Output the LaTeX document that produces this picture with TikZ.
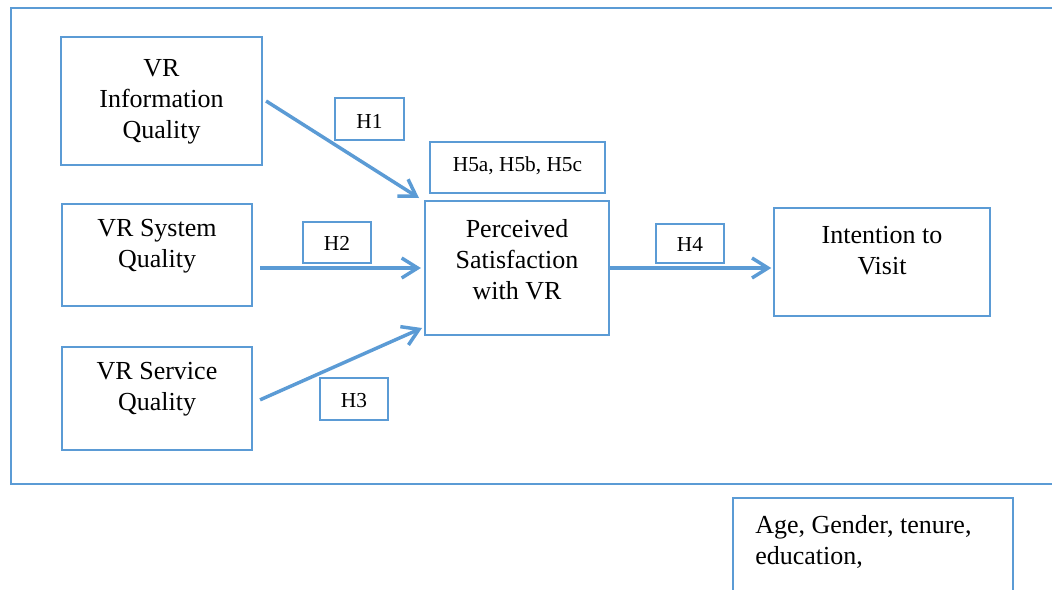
\documentclass[tikz,border=0pt]{standalone}
\usepackage{fontspec}
\setmainfont{Liberation Serif}
\usetikzlibrary{arrows.meta}
\definecolor{vrblue}{RGB}{91,155,213}
\tikzset{
  box/.style={draw=vrblue, line width=2.1pt, fill=none, inner sep=0pt},
  txt/.style={align=center, inner sep=0pt, font=\fontsize{19.5}{23.3}\selectfont},
  htxt/.style={align=center, inner sep=0pt, font=\fontsize{16}{19}\selectfont},
  conn/.style={draw=vrblue, line width=2.6pt, -{Straight Barb[length=12pt,width=15pt]}}
}
\begin{document}
\begin{tikzpicture}[x=0.75pt,y=-0.75pt]
\useasboundingbox (0,0) rectangle (1052,589);
% outer frame
\draw[draw=vrblue, line width=2.1pt] (1080,8) -- (11,8) -- (11,484) -- (1080,484);
% boxes
\node[box, minimum width=150.75pt, minimum height=96pt] (info) at (161.5,101) {};
\node[txt] (infot) at (161.5,101.5) {VR\\Information\\Quality};
\node[box, minimum width=142.5pt, minimum height=76.5pt] (sys) at (157,255) {};
\node[txt] (syst) at (157,246.5) {VR System\\Quality};
\node[box, minimum width=142.5pt, minimum height=77.25pt] (serv) at (157,398.5) {};
\node[txt] (servt) at (157,389.5) {VR Service\\Quality};
\node[box, minimum width=138pt, minimum height=100.5pt] (ps) at (517,268) {};
\node[txt] (pst) at (517,260) {Perceived\\Satisfaction\\with VR};
\node[box, minimum width=162pt, minimum height=81pt] (iv) at (882,262) {};
\node[txt] (ivt) at (882,251) {Intention to\\Visit};
% hypothesis labels
\node[box, minimum width=51.75pt, minimum height=31.5pt] (h1) at (369.5,119) {};
\node[htxt] (h1t) at (369.5,121) {H1};
\node[box, minimum width=51pt, minimum height=30.75pt] (h2) at (337,242.5) {};
\node[htxt] (h2t) at (337,243) {H2};
\node[box, minimum width=51pt, minimum height=31.5pt] (h3) at (354,399) {};
\node[htxt] (h3t) at (354,401) {H3};
\node[box, minimum width=51pt, minimum height=29.25pt] (h4) at (690,243.5) {};
\node[htxt] (h4t) at (690,244) {H4};
\node[box, minimum width=131.25pt, minimum height=38.25pt] (h5) at (517.5,167.5) {};
\node[htxt] (h5t) at (517.5,166) {H5a, H5b, H5c};
% control variables box
\draw[draw=vrblue, line width=2.1pt] (733,620) -- (733,498) -- (1013,498) -- (1013,620);
\node[txt, align=left, anchor=west] (age) at (755,542) {Age, Gender, tenure,\\education,};
% connectors
\coordinate (e1) at (419,198);
\coordinate (e3) at (422,328);
\draw[conn] ([xshift=2pt]info.east) -- (e1);
\draw[conn] ([xshift=5pt]sys.east |- ps.west) -- ([xshift=-2pt]ps.west);
\draw[conn] ([xshift=5pt,yshift=-1pt]serv.east) -- (e3);
\draw[conn] (ps.east) -- ([xshift=-1pt]iv.west |- ps.east);
\end{tikzpicture}
\end{document}
